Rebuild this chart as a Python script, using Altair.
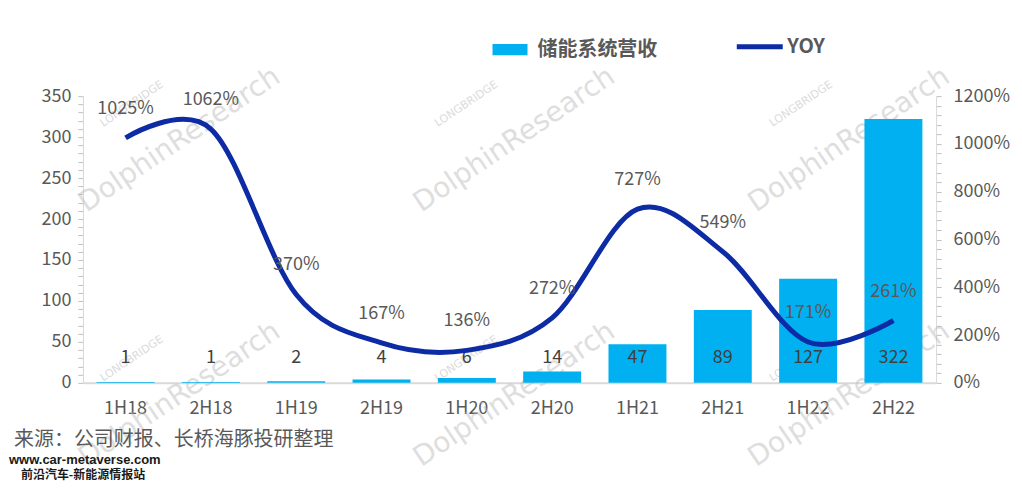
import altair as alt
import pandas as pd

periods = ["1H18", "2H18", "1H19", "2H19", "1H20", "2H20", "1H21", "2H21", "1H22", "2H22"]
revenue = [1, 1, 2, 4, 6, 14, 47, 89, 127, 322]
yoy = [1025, 1062, 370, 167, 136, 272, 727, 549, 171, 261]
bar_name = "储能系统营收"
line_name = "YOY"
source_text = "来源：公司财报、长桥海豚投研整理"
site_text = "www.car-metaverse.com"
site_name = "前沿汽车-新能源情报站"

df = pd.DataFrame({
    "period": periods,
    "revenue": revenue,
    "yoy": yoy,
    "yoy_label": [f"{v}%" for v in yoy],
    "series_bar": bar_name,
    "series_line": line_name,
})

FONT = "Noto Sans CJK SC"
GRAY = "#595959"
AXIS_GRAY = "#D9D9D9"
BAR_COLOR = "#00B0F0"
LINE_COLOR = "#0C2BA5"

base = alt.Chart(df)

x = alt.X(
    "period:N", sort=periods, title=None,
    scale=alt.Scale(paddingInner=0.32, paddingOuter=0.16),
    axis=alt.Axis(labelAngle=0, labelFontSize=18, labelColor=GRAY, labelFont=FONT,
                  ticks=False, domainColor=AXIS_GRAY, domainWidth=2, labelPadding=17),
)

y_left = alt.Y(
    "revenue:Q", title=None, scale=alt.Scale(domain=[0, 350]),
    axis=alt.Axis(values=list(range(0, 351, 10)),
                  labelExpr="datum.value % 50 == 0 ? datum.value : ''",
                  grid=False, tickSize=5, tickColor="#BFBFBF", domainColor=AXIS_GRAY,
                  labelFontSize=18, labelColor=GRAY, labelFont=FONT, labelPadding=7),
)

y_right = alt.Y(
    "yoy:Q", title=None, scale=alt.Scale(domain=[0, 1200]),
    axis=alt.Axis(orient="right", values=list(range(0, 1201, 40)),
                  labelExpr="datum.value % 200 == 0 ? datum.value + '%' : ''",
                  grid=False, tickSize=5, tickColor="#BFBFBF", domainColor=AXIS_GRAY,
                  labelFontSize=18, labelColor=GRAY, labelFont=FONT, labelPadding=12),
)

bars = base.mark_bar(size=58).encode(
    x=x, y=y_left,
    color=alt.Color("series_bar:N", scale=alt.Scale(domain=[bar_name], range=[BAR_COLOR]),
                    legend=alt.Legend(orient="none", legendX=410, legendY=-64, direction="horizontal",
                                      title=None, symbolType="M-1,-0.32H1V0.32H-1Z", symbolSize=1225,
                                      symbolStrokeWidth=0, labelFont=FONT, labelFontSize=20,
                                      labelFontWeight="bold", labelColor=GRAY, labelOffset=10)),
)
bar_text = base.mark_text(fontSize=18, color="#404040", font=FONT, baseline="middle").encode(
    x=x, y=alt.value(262), text="revenue:Q")

left_layer = alt.layer(bars, bar_text)

line = base.mark_line(interpolate="cardinal", tension=0, strokeWidth=5).encode(
    x=x, y=y_right,
    stroke=alt.Stroke("series_line:N", scale=alt.Scale(domain=[line_name], range=[LINE_COLOR]),
                      legend=alt.Legend(orient="none", legendX=652, legendY=-75, direction="horizontal",
                                        title=None, symbolType="stroke", symbolSize=2116,
                                        symbolStrokeWidth=5, labelFont=FONT, labelFontSize=20,
                                        labelFontWeight="bold", labelColor=GRAY, labelOffset=2)),
)
line_text = base.mark_text(fontSize=18, color=GRAY, font=FONT, dy=-29, baseline="middle").encode(
    x=x, y=y_right, text="yoy_label:N")

right_layer = alt.layer(line, line_text)

one = alt.Data(values=[{}])

def wm(cx, cy):
    big = alt.Chart(one).mark_text(text="DolphinResearch", angle=326, fontSize=28, font="DejaVu Sans",
                                   color="#B8B8B8", opacity=0.45).encode(
        x=alt.value(cx), y=alt.value(cy))
    small = alt.Chart(one).mark_text(text="LONGBRIDGE", angle=326, fontSize=11, font="DejaVu Sans",
                                     color="#B8B8B8", opacity=0.5).encode(
        x=alt.value(cx - 48), y=alt.value(cy - 36))
    return [big, small]

marks = []
for cx in (97, 432, 767):
    for cy in (44, 299):
        marks += wm(cx, cy)

src = alt.Chart(one).mark_text(text=source_text, fontSize=20, font=FONT, color=GRAY,
                               align="left", baseline="middle").encode(
    x=alt.value(-69), y=alt.value(344))
site1 = alt.Chart(one).mark_text(text=site_text, fontSize=13, font="Liberation Sans",
                                 fontWeight="bold", color="#1A1A1A", align="left", baseline="middle").encode(
    x=alt.value(-74), y=alt.value(364))
site2 = alt.Chart(one).mark_text(text=site_name, fontSize=12, font=FONT,
                                 fontWeight="bold", color="#1A1A1A", align="left", baseline="middle").encode(
    x=alt.value(-62), y=alt.value(379))

chart = alt.layer(
    *marks, left_layer, right_layer, src, site1, site2
).resolve_scale(
    y="independent", color="independent", stroke="independent"
).properties(
    width=854, height=287,
    autosize=alt.AutoSizeParams(type="none"),
    padding={"left": 75, "top": 88, "right": 78, "bottom": 100},
    background="white",
).configure_view(stroke=None)

chart.save("out.html", embed_options={"renderer": "svg", "actions": False})
